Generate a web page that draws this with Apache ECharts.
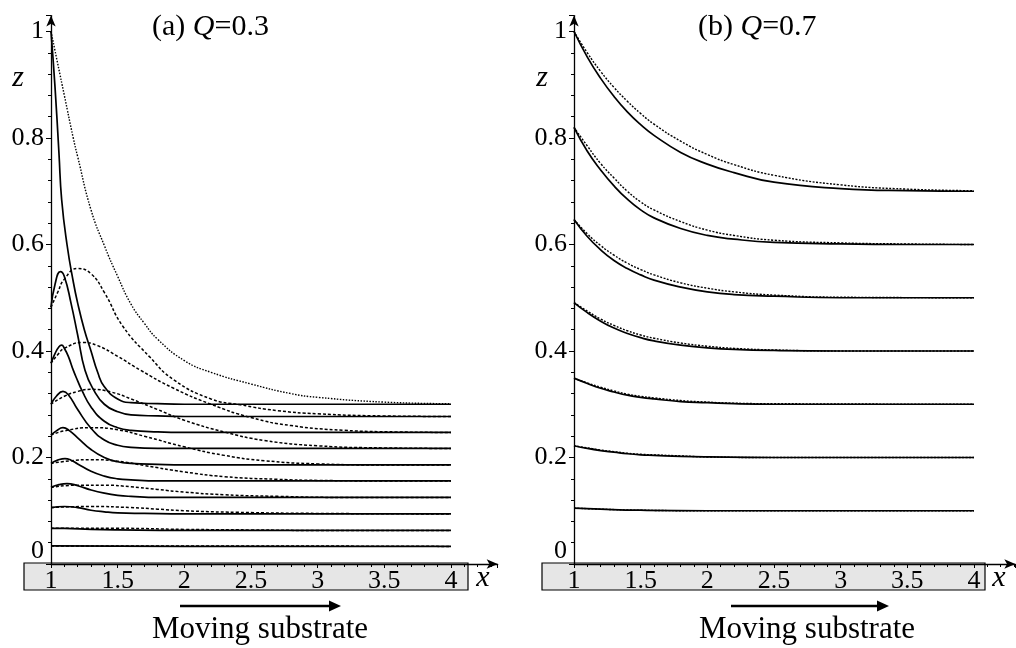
<!DOCTYPE html>
<html><head><meta charset="utf-8">
<script src="https://cdn.jsdelivr.net/npm/echarts@6/dist/echarts.min.js"></script>
<style>html,body{margin:0;padding:0;background:#fff}#c{width:1016px;height:648px}</style>
</head><body><div id="c"></div>
<script>
// ---------- data: panel (a) Q=0.3, [x, z] pairs ----------
const a1Solid = [[1,1.0],[1.03,0.896],[1.06,0.77],[1.08,0.684],[1.12,0.60],[1.167,0.53],[1.2,0.49],[1.25,0.44],[1.3,0.40],[1.35,0.36],[1.4,0.333],[1.5,0.31],[1.6,0.303],[1.8,0.301],[2,0.3],[3,0.3],[4,0.3]];
const a1Dash  = [[1,1.0],[1.05,0.94],[1.1,0.88],[1.167,0.80],[1.2,0.765],[1.3,0.665],[1.4,0.598],[1.5,0.54],[1.6,0.488],[1.7,0.452],[1.8,0.422],[2,0.382],[2.2,0.36],[2.5,0.338],[2.8,0.32],[3,0.313],[3.5,0.304],[4,0.301]];
const a2Solid = [[1,0.482],[1.03,0.525],[1.07,0.549],[1.1,0.54],[1.15,0.49],[1.2,0.43],[1.255,0.364],[1.32,0.327],[1.4,0.30],[1.5,0.286],[1.6,0.28],[1.8,0.278],[2,0.277],[3,0.277],[4,0.277]];
const a2Dash  = [[1,0.482],[1.05,0.51],[1.1,0.535],[1.2,0.555],[1.3,0.545],[1.4,0.51],[1.54,0.446],[1.74,0.389],[1.92,0.346],[2.2,0.31],[2.42,0.299],[2.7,0.288],[3,0.282],[3.5,0.278],[4,0.277]];
const a3Solid = [[1,0.377],[1.03,0.395],[1.06,0.408],[1.08,0.411],[1.1,0.405],[1.13,0.39],[1.167,0.364],[1.2,0.344],[1.23,0.327],[1.3,0.295],[1.4,0.268],[1.5,0.256],[1.6,0.251],[1.8,0.248],[2,0.247],[3,0.247],[4,0.247]];
const a3Dash  = [[1,0.377],[1.05,0.393],[1.1,0.405],[1.24,0.416],[1.35,0.41],[1.5,0.39],[1.67,0.364],[1.92,0.33],[2.2,0.30],[2.5,0.275],[2.8,0.26],[3.2,0.251],[3.6,0.248],[4,0.247]];
const a4Solid = [[1,0.30],[1.04,0.315],[1.09,0.324],[1.13,0.318],[1.2,0.29],[1.3,0.255],[1.4,0.233],[1.5,0.223],[1.6,0.219],[1.8,0.217],[3,0.217],[4,0.217]];
const a4Dash  = [[1,0.30],[1.1,0.315],[1.2,0.324],[1.3,0.328],[1.45,0.323],[1.6,0.31],[1.8,0.29],[2,0.27],[2.3,0.248],[2.6,0.232],[3,0.222],[3.5,0.218],[4,0.217]];
const a5Solid = [[1,0.242],[1.04,0.25],[1.09,0.256],[1.14,0.25],[1.2,0.237],[1.3,0.215],[1.4,0.2],[1.5,0.192],[1.6,0.189],[1.8,0.187],[2,0.186],[4,0.186]];
const a5Dash  = [[1,0.242],[1.1,0.25],[1.3,0.256],[1.5,0.252],[1.7,0.24],[2,0.22],[2.3,0.204],[2.6,0.194],[3,0.188],[3.5,0.186],[4,0.186]];
const a6Solid = [[1,0.189],[1.05,0.195],[1.105,0.198],[1.15,0.195],[1.2,0.188],[1.3,0.174],[1.4,0.165],[1.5,0.16],[1.6,0.158],[1.8,0.156],[4,0.156]];
const a6Dash  = [[1,0.189],[1.15,0.194],[1.3,0.196],[1.5,0.193],[1.7,0.185],[2,0.173],[2.3,0.164],[2.7,0.159],[3,0.157],[3.5,0.156],[4,0.156]];
const a7Solid = [[1,0.144],[1.06,0.149],[1.12,0.151],[1.2,0.147],[1.3,0.139],[1.4,0.133],[1.5,0.129],[1.6,0.127],[1.8,0.125],[4,0.125]];
const a7Dash  = [[1,0.144],[1.2,0.148],[1.4,0.148],[1.6,0.145],[1.8,0.14],[2,0.135],[2.3,0.13],[2.7,0.127],[3.2,0.125],[4,0.125]];
const a8Solid = [[1,0.106],[1.1,0.108],[1.2,0.106],[1.3,0.101],[1.4,0.098],[1.5,0.096],[1.7,0.095],[2,0.094],[4,0.094]];
const a8Dash  = [[1,0.106],[1.3,0.108],[1.6,0.106],[1.8,0.103],[2,0.1],[2.4,0.097],[3,0.095],[4,0.094]];
const a9Solid = [[1,0.067],[1.1,0.067],[1.3,0.065],[1.5,0.064],[2,0.063],[4,0.063]];
const a9Dash  = [[1,0.067],[1.5,0.067],[2,0.065],[2.5,0.064],[3,0.063],[4,0.063]];
const a10Solid = [[1,0.034],[2,0.033],[4,0.033]];
const a10Dash  = [[1,0.034],[2,0.034],[4,0.033]];

// ---------- data: panel (b) Q=0.7 ----------
const b1Solid = [[1,1.0],[1.1,0.952],[1.2,0.912],[1.3,0.878],[1.4,0.849],[1.5,0.825],[1.6,0.805],[1.8,0.773],[2,0.751],[2.2,0.735],[2.5,0.717],[3,0.705],[3.5,0.701],[4,0.7]];
const b1Dash  = [[1,1.0],[1.1,0.96],[1.2,0.925],[1.3,0.895],[1.4,0.869],[1.5,0.846],[1.6,0.826],[1.8,0.794],[2,0.769],[2.2,0.75],[2.5,0.73],[3,0.712],[3.5,0.704],[4,0.701]];
const b2Solid = [[1,0.82],[1.1,0.775],[1.2,0.74],[1.3,0.71],[1.4,0.685],[1.5,0.665],[1.6,0.65],[1.8,0.63],[2,0.617],[2.2,0.61],[2.5,0.604],[3,0.601],[3.5,0.6],[4,0.6]];
const b2Dash  = [[1,0.82],[1.1,0.785],[1.2,0.752],[1.3,0.725],[1.4,0.70],[1.5,0.68],[1.6,0.665],[1.8,0.643],[2,0.627],[2.2,0.617],[2.5,0.608],[3,0.603],[3.5,0.601],[4,0.6]];
const b3Solid = [[1,0.647],[1.1,0.615],[1.2,0.59],[1.3,0.57],[1.4,0.555],[1.5,0.543],[1.6,0.533],[1.8,0.52],[2,0.511],[2.2,0.506],[2.5,0.503],[3,0.5],[4,0.5]];
const b3Dash  = [[1,0.647],[1.1,0.62],[1.2,0.598],[1.3,0.58],[1.4,0.565],[1.5,0.553],[1.6,0.543],[1.8,0.528],[2,0.518],[2.2,0.511],[2.5,0.505],[3,0.501],[4,0.5]];
const b4Solid = [[1,0.491],[1.1,0.472],[1.2,0.456],[1.3,0.443],[1.4,0.433],[1.5,0.425],[1.6,0.419],[1.8,0.411],[2,0.406],[2.2,0.403],[2.5,0.401],[3,0.4],[4,0.4]];
const b4Dash  = [[1,0.491],[1.1,0.475],[1.2,0.46],[1.3,0.448],[1.4,0.438],[1.5,0.43],[1.6,0.424],[1.8,0.415],[2,0.409],[2.2,0.405],[2.5,0.402],[3,0.4],[4,0.4]];
const b5Solid = [[1,0.349],[1.1,0.339],[1.2,0.33],[1.3,0.323],[1.4,0.317],[1.5,0.313],[1.6,0.31],[1.8,0.305],[2,0.303],[2.2,0.301],[2.5,0.3],[4,0.3]];
const b5Dash  = [[1,0.349],[1.1,0.34],[1.2,0.332],[1.3,0.325],[1.4,0.319],[1.5,0.315],[1.6,0.312],[1.8,0.307],[2,0.304],[2.2,0.302],[2.5,0.301],[4,0.3]];
const b6Solid = [[1,0.222],[1.1,0.217],[1.2,0.213],[1.3,0.21],[1.4,0.207],[1.5,0.205],[1.6,0.204],[1.8,0.202],[2,0.201],[2.5,0.2],[4,0.2]];
const b6Dash  = [[1,0.222],[1.1,0.218],[1.2,0.214],[1.3,0.211],[1.4,0.208],[1.5,0.206],[1.6,0.205],[1.8,0.203],[2,0.201],[2.5,0.2],[4,0.2]];
const b7Solid = [[1,0.105],[1.2,0.103],[1.5,0.101],[2,0.1],[4,0.1]];
const b7Dash  = [[1,0.105],[1.2,0.103],[1.5,0.101],[2,0.1],[4,0.1]];

const xTicks = [1, 1.5, 2, 2.5, 3, 3.5, 4];
const zTicks = [0, 0.2, 0.4, 0.6, 0.8, 1];

const solidA = [a1Solid,a2Solid,a3Solid,a4Solid,a5Solid,a6Solid,a7Solid,a8Solid,a9Solid,a10Solid];
const dashA  = [a1Dash,a2Dash,a3Dash,a4Dash,a5Dash,a6Dash,a7Dash,a8Dash,a9Dash,a10Dash];
const solidB = [b1Solid,b2Solid,b3Solid,b4Solid,b5Solid,b6Solid,b7Solid];
const dashB  = [b1Dash,b2Dash,b3Dash,b4Dash,b5Dash,b6Dash,b7Dash];

// ---------- layout ----------
const FONT = 'Liberation Serif';
const PXU = 133.33, PZU = 532.5, YAX = 564;
const ZMAX = 1.03, XMAXA = 4.35, XMAXB = 4.31;
const LA = 51, LB = 574;

function xAxis(gi, max) {
  return {
    type: 'value', gridIndex: gi, min: 1, max: max, interval: 0.5,
    axisLine: { show: true, onZero: false, symbol: ['none', 'arrow'], symbolSize: [7, 11],
      lineStyle: { color: '#000', width: 1.3 } },
    axisTick: { show: true, length: 4, lineStyle: { color: '#000', width: 1 } },
    minorTick: { show: true, splitNumber: 5, length: 3, lineStyle: { color: '#000', width: 1 } },
    splitLine: { show: false },
    axisLabel: { color: '#000', fontFamily: FONT, fontSize: 26, margin: 4,
      showMaxLabel: false,
      formatter: v => (xTicks.indexOf(+v.toFixed(2)) >= 0 ? String(+v.toFixed(2)) : '') }
  };
}
function yAxis(gi) {
  return {
    type: 'value', gridIndex: gi, min: 0, max: ZMAX, interval: 0.2,
    axisLine: { show: true, onZero: false, symbol: ['none', 'arrow'], symbolSize: [7, 11],
      lineStyle: { color: '#000', width: 1.3 } },
    axisTick: { show: true, length: 5, lineStyle: { color: '#000', width: 1 } },
    minorTick: { show: true, splitNumber: 5, length: 3, lineStyle: { color: '#000', width: 1 } },
    splitLine: { show: false },
    axisLabel: { color: '#000', fontFamily: FONT, fontSize: 26, margin: 7,
      showMaxLabel: false,
      formatter: v => { const r = +v.toFixed(2); return (r > 0 && zTicks.indexOf(r) >= 0) ? String(r) : ''; } }
  };
}

const series = [];
function addLines(list, gi, type, width) {
  list.forEach(d => series.push({
    type: 'line', xAxisIndex: gi, yAxisIndex: gi, data: d, showSymbol: false,
    smooth: 0.5, animation: false, silent: true, clip: false,
    lineStyle: { color: '#000', width: width, type: type }
  }));
}
addLines(solidA, 0, 'solid', 1.7);
addLines(dashA.slice(0, 1), 0, [1.5, 1.5], 1.4);
addLines(dashA.slice(1), 0, [3, 2], 1.5);
addLines(solidB, 1, 'solid', 1.7);
addLines(dashB, 1, [2, 1.5], 1.4);

function txt(x, y, text, opts) {
  return Object.assign({ type: 'text', x: x, y: y, z: 10,
    style: Object.assign({ text: text, fill: '#000', font: '30px "' + FONT + '"',
      textAlign: 'center', textVerticalAlign: 'middle' }, opts || {}) });
}
function title(x, lab, q) {
  return { type: 'text', x: x, y: 27, z: 10, style: {
    text: '{n|' + lab + ' }{q|Q}{n|=' + q + '}', textAlign: 'left', textVerticalAlign: 'middle',
    rich: { n: { fontFamily: FONT, fontSize: 30, fill: '#000' },
            q: { fontFamily: FONT, fontSize: 30, fontStyle: 'italic', fill: '#000' } } } };
}
function substrate(x0, x1, ax0, ax1, cx) {
  return [
    { type: 'rect', z: -1, shape: { x: x0, y: 563, width: x1 - x0, height: 27 },
      style: { fill: '#e6e6e6', stroke: '#000', lineWidth: 1.2 } },
    { type: 'line', z: 10, shape: { x1: ax0, y1: 606, x2: ax1 - 8, y2: 606 },
      style: { stroke: '#000', lineWidth: 2.6 } },
    { type: 'polygon', z: 10, shape: { points: [[ax1 - 12, 600.5], [ax1, 606], [ax1 - 12, 611.5]] },
      style: { fill: '#000' } },
    txt(cx, 630, 'Moving substrate', { font: '31px "' + FONT + '"' })
  ];
}

const graphic = [].concat(
  substrate(24, 468, 180, 341, 260),
  substrate(542, 985, 731, 889, 807),
  [
    title(152, '(a)', '0.3'),
    title(698, '(b)', '0.7'),
    txt(18, 78, 'z', { font: 'italic 30px "' + FONT + '"' }),
    txt(542, 78, 'z', { font: 'italic 30px "' + FONT + '"' }),
    txt(483, 578, 'x', { font: 'italic 30px "' + FONT + '"' }),
    txt(999, 578, 'x', { font: 'italic 30px "' + FONT + '"' }),
    txt(44, 551, '0', { font: '26px "' + FONT + '"', textAlign: 'right' }),
    txt(567, 551, '0', { font: '26px "' + FONT + '"', textAlign: 'right' })
  ]
);

const chart = echarts.init(document.getElementById('c'), null, { renderer: 'canvas' });
chart.setOption({
  backgroundColor: '#fff',
  animation: false,
  grid: [
    { left: LA, top: YAX - ZMAX * PZU, width: (XMAXA - 1) * PXU, height: ZMAX * PZU },
    { left: LB, top: YAX - ZMAX * PZU, width: (XMAXB - 1) * PXU, height: ZMAX * PZU }
  ],
  xAxis: [xAxis(0, XMAXA), xAxis(1, XMAXB)],
  yAxis: [yAxis(0), yAxis(1)],
  series: series,
  graphic: graphic
});
</script></body></html>
